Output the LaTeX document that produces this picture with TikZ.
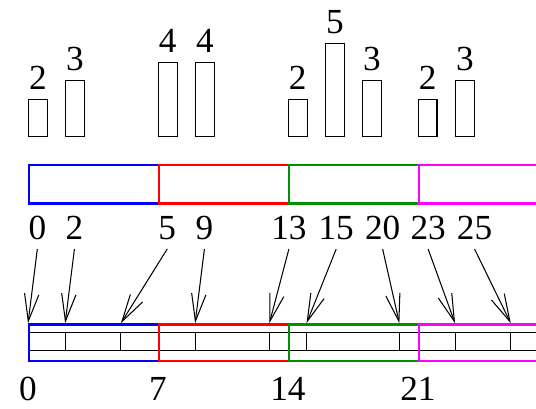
\documentclass[tikz,border=0pt]{standalone}
\usepackage{fontspec}
\setmainfont{Liberation Serif}
\usepackage{tikz}
\usetikzlibrary{arrows.meta,positioning}
\definecolor{darkgreen}{RGB}{0,144,0}
\definecolor{pink}{RGB}{255,0,255}
\tikzstyle{bar} = [rectangle, draw=black, line width=0.8pt, minimum width=0.5cm, inner sep=0pt, anchor=south west]
\tikzstyle{block} = [rectangle, line width=1.8pt, minimum width=3.5cm, inner sep=0pt, anchor=north west]
\tikzstyle{num} = [font=\fontsize{27}{30}\selectfont, inner sep=7pt]
\tikzstyle{pointer} = [line width=0.8pt,->,>={Straight Barb[length=21pt,width=11pt,line width=0.8pt]}]

\begin{document}
\begin{tikzpicture}[x=0.5cm, y=0.5cm]
\clip (-1.51,0) rectangle (27.36,22.02);
\foreach \p/\h [count=\i] in {0/2, 2/3, 7/4, 9/4, 14/2, 16/5, 18/3, 21/2, 23/3} {
	\node (bar\i) [bar, minimum height=\h*0.5cm] at (\p,14.63) {};
	\node (val\i) [num, above=0pt of bar\i] {\h};
}
\foreach \c/\p [count=\i] in {blue/0, red/7, darkgreen/14, pink/21}
	\node (top\i) [block, draw=\c, minimum height=1.025cm] at (\p,13.18) {};

\draw [line width=0.8pt] (0,4.11) -- (30,4.11) (0,3.14) -- (30,3.14);
\foreach \x/\v/\t [count=\i] in {0.5/0/0, 2.5/2/2, 7.5/5/5, 9.5/9/9, 14.05/13/13, 16.6/15/15, 19.1/20/20, 21.55/23/23, 24.05/25/26} {
	\node (idx\i) [num] at (\x,9.75) {\v};
	\coordinate (ptr\i) at (\t,4.61);
	\ifnum\t>0 \draw [line width=0.8pt] (\t,4.11) -- (\t,3.14); \fi
	\draw [pointer] (idx\i.south) -- (ptr\i);
}
\foreach \c/\p [count=\i] in {blue/0, red/7, darkgreen/14, pink/21} {
	\node (low\i) [block, draw=\c, minimum height=0.985cm] at (\p,4.61) {};
	\node (off\i) [num, inner sep=0pt] at (\p,1.05) {\p};
}
\end{tikzpicture}
\end{document}
